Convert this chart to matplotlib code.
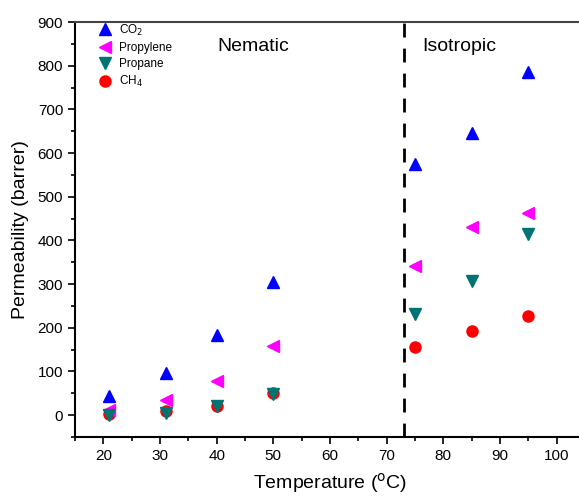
import matplotlib
matplotlib.use("Agg")
import matplotlib.pyplot as plt
from matplotlib.ticker import MultipleLocator

plt.rcParams["font.family"] = ["Liberation Sans", "DejaVu Sans"]

temps = [21, 31, 40, 50, 75, 85, 95]
co2 = [45, 97, 183, 305, 575, 645, 785]
propylene = [12, 35, 78, 158, 342, 430, 462]
propane = [0, 5, 20, 48, 232, 308, 415]
ch4 = [3, 10, 20, 50, 155, 193, 228]
transition_t = 73

fig = plt.figure(figsize=(5.79, 4.96), dpi=100)
ax = fig.add_axes([75 / 579, 59 / 496, 510 / 579, 415 / 496])

ax.plot(temps, co2, "^", color="#0000ff", ms=9, ls="none", label="CO$_2$", zorder=4)
ax.plot(temps, propylene, "<", color="#ff00ff", ms=9, ls="none", label="Propylene", zorder=4)
ax.plot(temps, propane, "v", color="#007373", ms=9, ls="none", label="Propane", zorder=4)
ax.plot(temps, ch4, "o", color="#ff0000", ms=8, ls="none", label="CH$_4$", zorder=3)

ax.axvline(transition_t, color="black", ls=(0, (5, 4)), lw=2)

ax.text(46.5, 843, "Nematic", fontsize=14, ha="center", va="center")
ax.text(82.8, 843, "Isotropic", fontsize=14, ha="center", va="center")

ax.set_xlim(15, 105)
ax.set_ylim(-50, 900)
ax.xaxis.set_minor_locator(MultipleLocator(5))
ax.yaxis.set_major_locator(MultipleLocator(100))
ax.yaxis.set_minor_locator(MultipleLocator(50))
ax.set_xticks(range(20, 101, 10))
ax.tick_params(which="major", direction="out", length=5, width=1.2, labelsize=11)
ax.tick_params(which="minor", direction="out", length=3, width=1.2)
for s in ax.spines.values():
    s.set_linewidth(1.5)
ax.spines["top"].set_color("#444444")

ax.set_xlabel("Temperature ($^{\\rm o}$C)", fontsize=14, labelpad=6)
ax.set_ylabel("Permeability (barrer)", fontsize=14, labelpad=6)

leg = ax.legend(loc="upper left", bbox_to_anchor=(0.035, 1.01), frameon=False,
                fontsize=8.5, handletextpad=0.6, labelspacing=0.35,
                borderaxespad=0.0, handlelength=1.2)

fig.savefig("out.png", dpi=100)
